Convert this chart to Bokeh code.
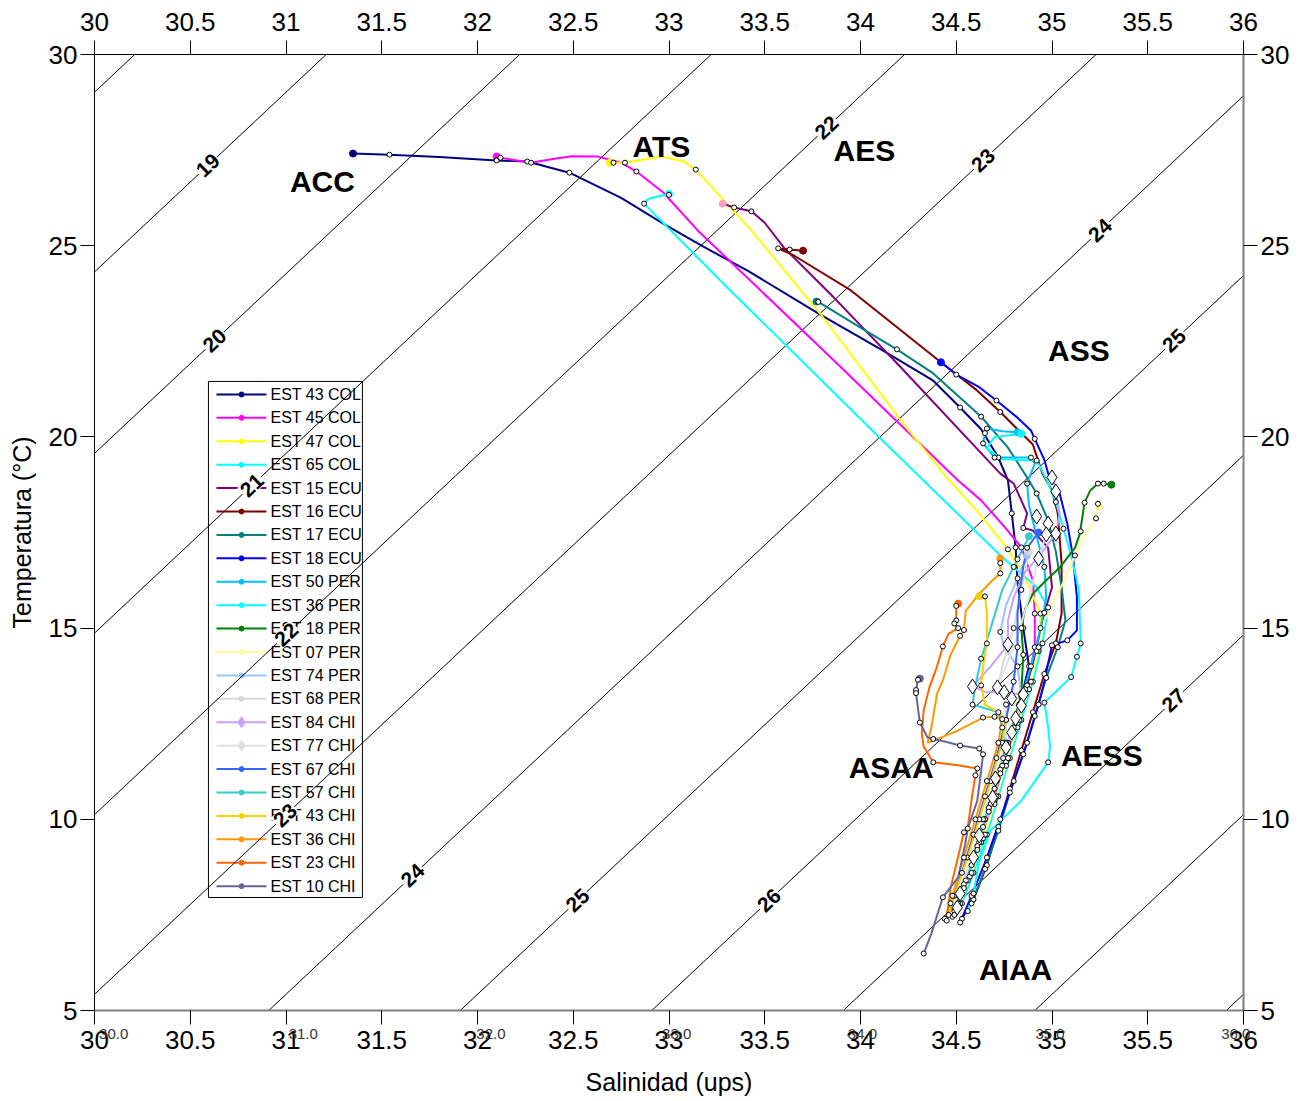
from bokeh.plotting import figure
from bokeh.models import LinearAxis, FixedTicker, Range1d
from bokeh.core.properties import value
from bokeh.embed import file_html
from bokeh.resources import INLINE

FONT = "Liberation Sans"

# ---------------- axis ticks ----------------
sal_ticks = [30, 30.5, 31, 31.5, 32, 32.5, 33, 33.5, 34, 34.5, 35, 35.5, 36]
sal_tick_labels = ["30", "30.5", "31", "31.5", "32", "32.5", "33", "33.5",
                   "34", "34.5", "35", "35.5", "36"]
tem_ticks = [5, 10, 15, 20, 25, 30]
minor_sal_labels = ["30.0", "31.0", "32.0", "33.0", "34.0", "35.0", "36.0"]
minor_sal_pos = [30.10, 31.09, 32.07, 33.04, 34.01, 34.99, 35.96]

# ---------------- sigma-t isolines (salinity at T=5 and T=30) ----------------
sigma_vals = [18, 19, 20, 21, 22, 23, 24, 25, 26, 27, 28, 29]
iso_sal_t30 = [30.21, 31.21, 32.22, 33.22, 34.23, 35.23, 36.23, 37.23, 38.23, 39.23, 40.23, 41.23]
iso_sal_t5 = [24.89, 25.89, 26.90, 27.90, 28.91, 29.91, 30.91, 31.91, 32.91, 33.91, 34.91, 35.91]
sig_label_vals = [19, 20, 21, 22, 23, 24, 25, 26, 22, 23, 24, 25, 27]
sig_label_tem = [27.10, 22.52, 18.73, 14.83, 10.10, 8.53, 7.88, 7.88, 28.09, 27.23, 25.40, 22.52, 13.11]

# ---------------- water mass labels ----------------
wm_names = ["ACC", "ATS", "AES", "ASS", "ASAA", "AESS", "AIAA"]
wm_sal = [31.19, 32.96, 34.02, 35.14, 34.16, 35.26, 34.81]
wm_tem = [26.68, 27.59, 27.49, 22.26, 11.35, 11.67, 6.07]

# ---------------- station profiles (salinity, temperature, marker code) ----------------
# marker code: 0 none, 1 small open circle, 2 open diamond, 3 filled start dot
est43col = [(31.35, 27.41, 3), (31.54, 27.38, 1), (31.80, 27.32, 0), (32.10, 27.23, 1), (32.26, 27.20, 1),
            (32.48, 26.91, 1), (32.75, 26.25, 0), (32.97, 25.58, 0), (33.17, 25.00, 0), (33.41, 24.35, 0),
            (33.79, 23.20, 0), (34.12, 22.25, 0), (34.38, 21.47, 0), (34.52, 20.77, 1), (34.63, 20.20, 0),
            (34.72, 19.46, 1), (34.77, 18.86, 0), (34.79, 18.00, 1), (34.81, 17.11, 1), (34.82, 16.20, 0),
            (34.85, 15.00, 1), (34.88, 14.00, 1), (34.83, 13.00, 1), (34.77, 12.00, 1), (34.71, 11.00, 1),
            (34.65, 10.00, 1), (34.59, 9.00, 1), (34.52, 8.00, 1), (34.48, 7.45, 1)]
est45col = [(32.10, 27.33, 3), (32.12, 27.30, 1), (32.28, 27.17, 1), (32.37, 27.25, 0), (32.49, 27.34, 0),
            (32.63, 27.33, 0), (32.75, 27.17, 0), (32.83, 26.94, 1), (32.97, 26.39, 0), (33.15, 25.40, 0),
            (33.83, 22.15, 0), (34.51, 18.86, 0), (34.63, 18.34, 0), (34.76, 17.60, 0), (34.84, 17.11, 1),
            (34.90, 16.25, 0), (34.91, 15.38, 1), (34.91, 14.50, 1), (34.87, 13.50, 1), (34.82, 12.50, 1),
            (34.76, 11.50, 1), (34.70, 10.50, 1), (34.64, 9.50, 1), (34.57, 8.50, 1), (34.51, 7.70, 1)]
est47col = [(32.69, 27.17, 3), (32.71, 27.17, 1), (32.77, 27.17, 1), (32.96, 27.33, 0), (33.08, 27.20, 0),
            (33.14, 26.99, 1), (33.43, 25.40, 0), (33.79, 23.22, 0), (34.21, 20.43, 0), (34.45, 18.94, 0),
            (34.62, 18.00, 0), (34.77, 17.06, 1), (34.85, 16.43, 0), (34.94, 15.38, 1), (34.93, 14.40, 1),
            (34.88, 13.40, 1), (34.82, 12.40, 1), (34.76, 11.40, 1), (34.70, 10.40, 1), (34.63, 9.40, 1),
            (34.56, 8.40, 1), (34.50, 7.60, 1)]
est65col = [(33.00, 26.36, 3), (33.00, 26.33, 1), (32.95, 26.30, 0), (32.89, 26.22, 0), (32.87, 26.10, 1),
            (33.32, 23.83, 0), (34.10, 19.98, 0), (34.72, 16.95, 0), (34.80, 16.60, 1), (34.92, 16.06, 0),
            (34.98, 15.54, 1), (34.95, 14.60, 1), (34.90, 13.60, 1), (34.84, 12.60, 1), (34.78, 11.60, 1),
            (34.72, 10.60, 1), (34.66, 9.60, 1), (34.59, 8.60, 1), (34.53, 7.80, 1)]
est15ecu = [(33.28, 26.10, 3), (33.34, 26.00, 1), (33.43, 25.90, 1), (33.50, 25.60, 0), (33.60, 24.95, 0),
            (33.86, 23.65, 0), (34.21, 21.82, 0), (34.73, 19.04, 0), (34.80, 18.78, 0), (34.87, 18.00, 0),
            (34.85, 17.62, 1), (34.90, 17.55, 0), (34.98, 17.10, 0), (35.00, 16.06, 0), (34.96, 15.40, 1),
            (34.92, 14.40, 1), (34.86, 13.40, 1), (34.80, 12.40, 1), (34.74, 11.40, 1), (34.68, 10.40, 1),
            (34.62, 9.40, 1), (34.55, 8.40, 1), (34.49, 7.60, 1)]
est16ecu = [(33.70, 24.87, 3), (33.63, 24.90, 1), (33.57, 24.93, 1), (33.65, 24.75, 0), (33.95, 23.83, 0),
            (34.42, 21.95, 0), (34.60, 21.25, 0), (34.73, 20.65, 1), (34.90, 19.80, 0), (34.95, 19.04, 0),
            (35.00, 18.60, 0), (35.03, 18.00, 0), (35.05, 16.70, 0), (35.05, 15.38, 0), (35.02, 14.60, 1),
            (34.96, 13.80, 1), (34.90, 12.80, 1), (34.84, 11.80, 1), (34.78, 10.80, 1), (34.72, 9.80, 1),
            (34.66, 8.80, 1), (34.59, 7.90, 1), (34.53, 7.40, 1)]
est17ecu = [(33.77, 23.54, 3), (33.78, 23.53, 1), (34.00, 22.86, 0), (34.19, 22.29, 1), (34.38, 21.66, 0),
            (34.63, 20.53, 1), (34.77, 19.72, 0), (34.87, 18.94, 0), (34.92, 18.52, 1), (34.98, 17.81, 0),
            (35.02, 17.00, 0), (35.05, 16.06, 0), (35.07, 15.20, 0), (35.03, 14.50, 1), (34.97, 13.70, 1),
            (34.91, 12.70, 1), (34.85, 11.70, 1), (34.78, 10.70, 1), (34.72, 9.70, 1), (34.65, 8.70, 1),
            (34.58, 7.80, 1)]
est18ecu = [(34.42, 21.95, 3), (34.50, 21.63, 1), (34.62, 21.30, 0), (34.71, 20.95, 1), (34.82, 20.50, 0),
            (34.89, 20.17, 0), (34.91, 19.95, 1), (34.96, 19.40, 0), (34.98, 19.04, 0), (35.04, 18.52, 0),
            (35.08, 17.73, 0), (35.11, 16.85, 0), (35.13, 15.80, 0), (35.13, 14.94, 0), (35.08, 14.68, 1),
            (35.00, 14.55, 1), (34.96, 13.60, 0), (34.93, 13.00, 1), (34.87, 12.00, 1), (34.80, 11.00, 1),
            (34.73, 10.00, 1), (34.66, 9.00, 1), (34.58, 8.00, 1), (34.52, 7.30, 1)]
est50per = [(34.82, 20.12, 3), (34.74, 20.15, 0), (34.66, 20.22, 1), (34.65, 20.10, 1), (34.64, 19.83, 1),
            (34.70, 19.46, 1), (34.80, 19.46, 0), (34.89, 19.46, 1), (34.91, 19.30, 0), (34.87, 18.78, 1),
            (34.88, 18.20, 0), (34.92, 17.40, 0), (34.96, 16.60, 1), (34.97, 15.80, 0), (34.94, 15.00, 1),
            (34.89, 14.00, 1), (34.83, 13.00, 1), (34.77, 12.00, 1), (34.71, 11.00, 1), (34.65, 10.00, 1),
            (34.59, 9.00, 1), (34.52, 8.00, 1)]
est36per = [(34.84, 20.08, 3), (34.70, 20.00, 0), (34.66, 19.70, 0), (34.74, 19.42, 0), (34.92, 19.38, 1),
            (34.97, 18.90, 0), (35.02, 18.30, 1), (35.06, 17.60, 1), (35.10, 16.90, 0), (35.14, 16.00, 0),
            (35.15, 14.60, 1), (35.13, 14.25, 1), (35.10, 13.72, 1), (34.96, 13.05, 1), (34.98, 12.40, 0),
            (34.99, 11.90, 0), (34.98, 11.49, 1), (34.84, 10.49, 0), (34.68, 9.71, 0), (34.62, 8.90, 0),
            (34.59, 8.06, 1), (34.56, 7.60, 1)]
est18per = [(35.31, 18.75, 3), (35.27, 18.78, 1), (35.24, 18.78, 1), (35.20, 18.60, 0), (35.17, 18.28, 1),
            (35.15, 17.63, 0), (35.15, 17.53, 1), (35.12, 17.10, 0), (35.04, 16.58, 0), (34.97, 16.25, 0),
            (34.90, 15.90, 0), (34.86, 15.50, 0), (34.84, 15.00, 1), (34.85, 14.30, 1), (34.84, 13.30, 1),
            (34.79, 12.30, 1), (34.73, 11.30, 1), (34.67, 10.30, 1), (34.61, 9.30, 1), (34.54, 8.30, 1),
            (34.49, 7.50, 1)]
est07per = [(35.25, 18.18, 3), (35.24, 18.25, 1), (35.23, 17.87, 1), (35.18, 17.50, 0), (35.12, 16.90, 1),
            (35.06, 16.20, 0), (35.01, 15.72, 0), (34.96, 15.20, 0), (34.93, 14.50, 1), (34.89, 13.60, 1),
            (34.83, 12.60, 1), (34.77, 11.60, 1), (34.71, 10.60, 1), (34.65, 9.60, 1), (34.58, 8.60, 1),
            (34.52, 7.80, 1)]
est74per = [(34.87, 16.90, 3), (34.82, 16.30, 1), (34.76, 15.60, 0), (34.73, 14.90, 1), (34.75, 14.50, 0),
            (34.82, 14.00, 1), (34.84, 13.20, 1), (34.79, 12.20, 1), (34.73, 11.20, 1), (34.67, 10.20, 1),
            (34.61, 9.20, 1), (34.54, 8.20, 1)]
est68per = [(34.88, 17.00, 3), (34.84, 16.00, 1), (34.80, 15.00, 1), (34.74, 14.00, 0), (34.72, 13.50, 1),
            (34.76, 13.00, 1), (34.76, 12.00, 1), (34.70, 11.00, 1), (34.64, 10.00, 1), (34.58, 9.00, 1),
            (34.51, 8.00, 1)]
est84chi = [(35.00, 18.94, 2), (35.02, 18.57, 2), (35.04, 18.00, 0), (35.02, 17.47, 2), (34.95, 17.00, 0),
            (34.85, 16.40, 0), (34.80, 15.80, 0), (34.77, 15.20, 0), (34.77, 14.57, 2), (34.68, 14.00, 0),
            (34.585, 13.47, 2), (34.66, 13.32, 0), (34.75, 13.32, 2), (34.85, 13.26, 2), (34.81, 12.64, 2),
            (34.76, 11.88, 2), (34.69, 10.57, 2), (34.59, 9.00, 2), (34.505, 7.69, 2)]
est77chi = [(34.92, 17.92, 2), (34.98, 17.73, 2), (34.97, 17.45, 2), (34.93, 16.82, 2), (34.88, 15.80, 0),
            (34.82, 14.80, 0), (34.76, 14.00, 0), (34.715, 13.45, 2), (34.79, 13.16, 2), (34.84, 12.97, 2),
            (34.79, 12.27, 2), (34.705, 11.07, 2), (34.62, 9.58, 2), (34.52, 8.06, 2)]
est67chi = [(34.93, 17.50, 3), (34.87, 17.10, 1), (34.85, 16.60, 0), (34.83, 15.90, 0), (34.82, 15.38, 0),
            (34.82, 14.50, 1), (34.80, 13.60, 1), (34.76, 12.60, 1), (34.71, 11.60, 1), (34.65, 10.60, 1),
            (34.59, 9.60, 1), (34.53, 8.60, 1), (34.47, 7.80, 1)]
est57chi = [(34.88, 17.40, 3), (34.82, 16.80, 1), (34.74, 16.00, 0), (34.68, 15.00, 0), (34.63, 14.20, 1),
            (34.60, 13.50, 0), (34.585, 13.00, 1), (34.72, 12.80, 0), (34.74, 12.40, 1), (34.755, 11.90, 0),
            (34.745, 11.60, 1), (34.70, 10.80, 1), (34.64, 9.80, 1), (34.58, 8.80, 1), (34.51, 7.80, 1)]
est43chi = [(34.62, 15.83, 3), (34.65, 15.83, 1), (34.66, 15.40, 0), (34.66, 14.60, 1), (34.64, 14.00, 0),
            (34.63, 13.50, 1), (34.65, 13.00, 0), (34.72, 12.80, 1), (34.76, 12.60, 1), (34.74, 12.00, 1),
            (34.68, 11.00, 1), (34.62, 10.00, 1), (34.56, 9.00, 1), (34.49, 8.00, 1), (34.46, 7.50, 1)]
est36chi = [(34.73, 16.82, 3), (34.73, 16.70, 1), (34.73, 16.43, 1), (34.69, 16.25, 0), (34.62, 15.90, 0),
            (34.55, 15.45, 0), (34.54, 14.95, 1), (34.52, 14.80, 1), (34.47, 14.30, 0), (34.43, 13.63, 0),
            (34.40, 13.29, 0), (34.37, 12.40, 0), (34.35, 12.00, 0), (34.50, 12.30, 0), (34.64, 12.66, 1),
            (34.70, 12.68, 1), (34.74, 12.62, 1), (34.72, 12.00, 1), (34.66, 11.00, 1), (34.60, 10.00, 1),
            (34.54, 9.00, 1), (34.48, 8.00, 1), (34.44, 7.40, 1)]
est23chi = [(34.51, 15.64, 3), (34.50, 15.58, 1), (34.50, 15.20, 1), (34.49, 15.12, 1), (34.51, 15.00, 1),
            (34.46, 14.85, 0), (34.43, 14.52, 1), (34.40, 14.00, 0), (34.36, 13.45, 0), (34.33, 12.85, 0),
            (34.32, 12.24, 0), (34.33, 11.90, 0), (34.38, 11.49, 1), (34.50, 11.42, 0), (34.61, 11.33, 1),
            (34.60, 11.15, 1), (34.585, 10.68, 0), (34.56, 9.79, 0), (34.54, 9.66, 1), (34.505, 8.92, 0),
            (34.47, 8.20, 0), (34.45, 7.35, 1)]
est10chi = [(34.31, 13.68, 3), (34.30, 13.65, 1), (34.29, 13.38, 1), (34.29, 13.30, 1), (34.30, 12.90, 0),
            (34.31, 12.53, 1), (34.35, 12.14, 0), (34.38, 12.10, 1), (34.45, 12.02, 0), (34.52, 11.93, 1),
            (34.62, 11.85, 1), (34.64, 11.70, 1), (34.63, 11.27, 0), (34.61, 10.49, 0), (34.56, 9.76, 1),
            (34.545, 9.30, 0), (34.51, 8.48, 0), (34.43, 7.96, 1), (34.37, 7.01, 0), (34.33, 6.49, 1)]

station_labels = ["EST 43 COL", "EST 45 COL", "EST 47 COL", "EST 65 COL", "EST 15 ECU", "EST 16 ECU",
                  "EST 17 ECU", "EST 18 ECU", "EST 50 PER", "EST 36 PER", "EST 18 PER", "EST 07 PER",
                  "EST 74 PER", "EST 68 PER", "EST 84 CHI", "EST 77 CHI", "EST 67 CHI", "EST 57 CHI",
                  "EST 43 CHI", "EST 36 CHI", "EST 23 CHI", "EST 10 CHI"]
stations = [est43col, est45col, est47col, est65col, est15ecu, est16ecu, est17ecu, est18ecu,
            est50per, est36per, est18per, est07per, est74per, est68per, est84chi, est77chi,
            est67chi, est57chi, est43chi, est36chi, est23chi, est10chi]
line_colors = ["#000080", "#FF00FF", "#FFFF00", "#00FFFF", "#800080", "#800000", "#008080", "#0000FF",
               "#00BFFF", "#00FFFF", "#008000", "#FFFF99", "#99C2FF", "#D9D9D9", "#C9A0FF", "#E0E0E0",
               "#3366FF", "#33CCCC", "#FFCC00", "#FF9900", "#FF6600", "#666699"]
marker_colors = ["#000080", "#FF00FF", "#FFFF00", "#00FFFF", "#FFA0C8", "#800000", "#008080", "#0000FF",
                 "#00BFFF", "#00FFFF", "#008000", "#FFFF99", "#99C2FF", "#D9D9D9", "#C9A0FF", "#E0E0E0",
                 "#3366FF", "#33CCCC", "#FFCC00", "#FF9900", "#FF6600", "#666699"]
legend_markers = ["circle"] * 14 + ["diamond", "diamond"] + ["circle"] * 6

# ---------------- figure ----------------
p = figure(width=1300, height=1100, x_range=Range1d(30, 36), y_range=Range1d(5, 30),
           output_backend="svg", toolbar_location=None,
           min_border_left=94, min_border_right=57, min_border_top=54, min_border_bottom=90)
p.outline_line_color = None
p.xgrid.visible = False
p.ygrid.visible = False
p.background_fill_color = "white"
p.border_fill_color = "white"

sal_overrides = {float(t): s for t, s in zip(sal_ticks, sal_tick_labels)}


def style_axis(ax, ticks, overrides, line_color, line_width, standoff=3):
    ax.ticker = FixedTicker(ticks=ticks)
    if overrides:
        ax.major_label_overrides = overrides
    ax.major_tick_out = 14
    ax.major_tick_in = 0
    ax.minor_tick_line_color = None
    ax.major_tick_line_color = "black"
    ax.major_label_text_font = FONT
    ax.major_label_text_font_size = "26px"
    ax.major_label_text_color = "black"
    ax.major_label_standoff = standoff
    ax.axis_line_color = line_color
    ax.axis_line_width = line_width
    ax.axis_label_text_font = FONT
    ax.axis_label_text_font_size = "25px"
    ax.axis_label_text_font_style = "normal"
    ax.axis_label_text_color = "black"


style_axis(p.xaxis[0], sal_ticks, sal_overrides, "#7f7f7f", 2, standoff=6)
style_axis(p.yaxis[0], tem_ticks, None, "black", 1)
p.yaxis[0].axis_label = "Temperatura (°C)"
p.yaxis[0].axis_label_standoff = 10

# secondary bottom axis: small labels pulled up under the main ones, carries the title
sec_ax = LinearAxis()
sec_ax.ticker = FixedTicker(ticks=minor_sal_pos)
sec_ax.major_label_overrides = {float(t): s for t, s in zip(minor_sal_pos, minor_sal_labels)}
sec_ax.axis_line_color = None
sec_ax.major_tick_line_color = None
sec_ax.minor_tick_line_color = None
sec_ax.major_tick_out = 0
sec_ax.major_tick_in = 0
sec_ax.minor_tick_out = 0
sec_ax.major_label_standoff = -23
sec_ax.major_label_text_font = FONT
sec_ax.major_label_text_font_size = "15px"
sec_ax.major_label_text_color = "#333333"
sec_ax.axis_label = "Salinidad (ups)"
sec_ax.axis_label_standoff = 26
sec_ax.axis_label_text_font = FONT
sec_ax.axis_label_text_font_size = "25px"
sec_ax.axis_label_text_font_style = "normal"
sec_ax.axis_label_text_color = "black"
p.add_layout(sec_ax, "below")

top_ax = LinearAxis()
style_axis(top_ax, sal_ticks, sal_overrides, "black", 1, standoff=10)
p.add_layout(top_ax, "above")
right_ax = LinearAxis()
style_axis(right_ax, tem_ticks, None, "#7f7f7f", 2)
p.add_layout(right_ax, "right")

# ---------------- legend box (drawn first, so the isolines cross over it) ----------------
LEG_L, LEG_R, LEG_T, LEG_B = 30.595, 31.399, 21.45, 7.955
ITEM_T0, ITEM_DT = 21.11, 0.6123
SAMP_X0, SAMP_X1, SAMP_XM, TXT_X = 30.637, 30.898, 30.768, 30.919
p.quad(left=[LEG_L], right=[LEG_R], top=[LEG_T], bottom=[LEG_B], fill_color="white",
       line_color="black", line_width=1)
leg_y = [ITEM_T0 - i * ITEM_DT for i in range(len(station_labels))]
p.segment(x0=[SAMP_X0] * len(leg_y), y0=leg_y, x1=[SAMP_X1] * len(leg_y), y1=leg_y,
          line_color=line_colors, line_width=2)
circ_leg = [(y, c) for y, c, m in zip(leg_y, marker_colors, legend_markers) if m == "circle"]
dia_leg = [(y, c) for y, c, m in zip(leg_y, marker_colors, legend_markers) if m == "diamond"]
p.scatter(x=[SAMP_XM] * len(circ_leg), y=[q[0] for q in circ_leg], marker="circle", size=5,
          fill_color=[q[1] for q in circ_leg], line_color=[q[1] for q in circ_leg])
p.scatter(x=[SAMP_XM] * len(dia_leg), y=[q[0] for q in dia_leg], marker="diamond", size=11,
          fill_color=[q[1] for q in dia_leg], line_color=[q[1] for q in dia_leg])
p.text(x=[TXT_X] * len(leg_y), y=leg_y, text=station_labels, text_align="left",
       text_baseline="middle", text_font=value(FONT), text_font_size="16px", text_color="black")

# ---------------- isolines ----------------
p.segment(x0=iso_sal_t5, y0=[5] * len(sigma_vals), x1=iso_sal_t30, y1=[30] * len(sigma_vals),
          line_color="black", line_width=1)

lab_x, lab_txt = [], []
for sv, tv in zip(sig_label_vals, sig_label_tem):
    i = sigma_vals.index(sv)
    s5, s30 = iso_sal_t5[i], iso_sal_t30[i]
    lab_x.append(s5 + (tv - 5) * (s30 - s5) / 25.0)
    lab_txt.append(str(sv))
p.text(x=lab_x, y=sig_label_tem, text=lab_txt, angle=0.755, text_align="center",
       text_baseline="middle", text_font=value(FONT), text_font_style="bold",
       text_font_size="21px", text_color="black", background_fill_color="white", padding=1)

# ---------------- profiles ----------------
circ_x, circ_y, dia_x, dia_y = [], [], [], []
start_x, start_y, start_c = [], [], []
for pts, lc, mc in zip(stations, line_colors, marker_colors):
    xs = [q[0] for q in pts]
    ys = [q[1] for q in pts]
    p.line(xs, ys, line_color=lc, line_width=2)
    for q in pts:
        if q[2] == 1:
            circ_x.append(q[0]); circ_y.append(q[1])
        elif q[2] == 2:
            dia_x.append(q[0]); dia_y.append(q[1])
        elif q[2] == 3:
            start_x.append(q[0]); start_y.append(q[1]); start_c.append(mc)

p.scatter(x=start_x, y=start_y, marker="circle", size=7, fill_color=start_c, line_color=start_c)
p.scatter(x=circ_x, y=circ_y, marker="circle", size=5, fill_color="white", line_color="black",
          line_width=1)
p.scatter(x=dia_x, y=dia_y, marker="diamond", size=15, fill_color="white", line_color="black",
          line_width=1)

# water mass labels
p.text(x=wm_sal, y=wm_tem, text=wm_names, text_align="center", text_baseline="middle",
       text_font=value(FONT), text_font_style="bold", text_font_size="30px", text_color="black")

open("out.html", "w").write(file_html(p, INLINE))
